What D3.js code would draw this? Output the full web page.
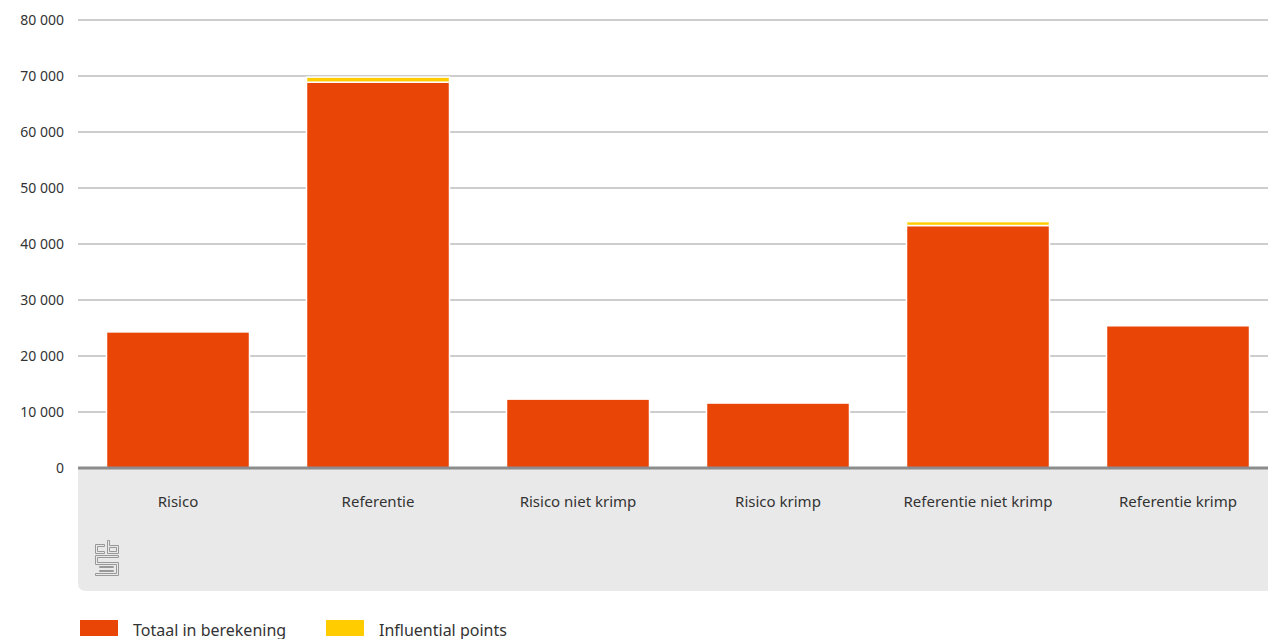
<!DOCTYPE html>
<html>
<head>
<meta charset="utf-8">
<script src="https://cdn.jsdelivr.net/npm/d3@7"></script>
<style>
  body { margin: 0; background: #fff; }
  svg { font-family: "Noto Sans", sans-serif; }
</style>
</head>
<body>
<svg width="1268" height="639"></svg>
<script>
var categories = ["Risico", "Referentie", "Risico niet krimp", "Risico krimp", "Referentie niet krimp", "Referentie krimp"];
var totaal = [24300, 68900, 12300, 11600, 43300, 25400];
var influential = [0, 900, 0, 0, 700, 0];
var seriesNames = ["Totaal in berekening", "Influential points"];
var yTicks = [0, 10000, 20000, 30000, 40000, 50000, 60000, 70000, 80000];

var colors = ["#e94506", "#ffcc00"];
var svg = d3.select("svg");

var x = d3.scaleBand().domain(categories).range([78, 1278]).paddingInner(0.285).paddingOuter(0.1425);
var y = d3.scaleLinear().domain([0, 80000]).range([468, 20]);

var fmt = function(d) { return d3.format(",")(d).replace(/,/g, " "); };

// grey category area
svg.append("path")
    .attr("d", "M78,468 H1268 V591 H86 Q78,591 78,583 Z")
    .attr("fill", "#e9e9e9");

// gridlines
svg.append("g").selectAll("line")
    .data(yTicks.slice(1))
    .enter().append("line")
    .attr("x1", 78).attr("x2", 1268)
    .attr("y1", d => y(d)).attr("y2", d => y(d))
    .attr("stroke", "#bdbdbd").attr("stroke-width", 1.5);

svg.append("g").selectAll("text")
    .data(yTicks)
    .enter().append("text")
    .attr("x", 64).attr("y", d => y(d) + 5)
    .attr("text-anchor", "end")
    .attr("font-size", 14).attr("fill", "#333")
    .text(fmt);

// stacked bars
var rows = categories.map(function(c, i) { return { cat: c, a: totaal[i], b: influential[i] }; });
var stack = d3.stack().keys(["a", "b"])(rows);

svg.append("g").selectAll("g")
    .data(stack)
    .enter().append("g")
    .attr("fill", (d, i) => colors[i])
    .selectAll("rect")
    .data(d => d.filter(s => s[1] > s[0]))
    .enter().append("rect")
    .attr("x", d => x(d.data.cat))
    .attr("width", x.bandwidth())
    .attr("y", d => y(d[1]))
    .attr("height", d => y(d[0]) - y(d[1]))
    .attr("stroke", "#fff").attr("stroke-width", 1.5);

// baseline
svg.append("line")
    .attr("x1", 78).attr("x2", 1268)
    .attr("y1", 468).attr("y2", 468)
    .attr("stroke", "#8c8c8c").attr("stroke-width", 3);

// category labels
svg.append("g").selectAll("text")
    .data(categories)
    .enter().append("text")
    .attr("x", d => x(d) + x.bandwidth() / 2)
    .attr("y", 507)
    .attr("text-anchor", "middle")
    .attr("font-size", 15).attr("fill", "#333")
    .text(d => d);

// cbs logo
var logo = svg.append("g").attr("transform", "translate(95.5,540.5)")
    .attr("fill", "none").attr("stroke", "#999").attr("stroke-width", 1);
logo.append("path").attr("d", "M9,4 H0 V13 H9 V11 H2 V6 H9 Z");
logo.append("path").attr("d", "M12,0 H14 V5 H23 V13 H12 Z M14,7 V11 H21 V7 Z");
logo.append("path").attr("d", "M0,15 H23 V17 H2 V22 H23 V35 H0 V33 H21 V24 H0 Z");
logo.append("path").attr("d", "M4,26 H18 V27 H4 Z M4,30 H18 V31 H4 Z");

// legend
var leg = svg.append("g").selectAll("g")
    .data(seriesNames)
    .enter().append("g")
    .attr("transform", (d, i) => "translate(" + (80 + i * 246) + ",620)");
leg.append("rect").attr("width", 38).attr("height", 16).attr("fill", (d, i) => colors[i]);
leg.append("text").attr("x", 53).attr("y", 16)
    .attr("font-size", 16).attr("fill", "#333").text(d => d);
</script>
</body>
</html>
